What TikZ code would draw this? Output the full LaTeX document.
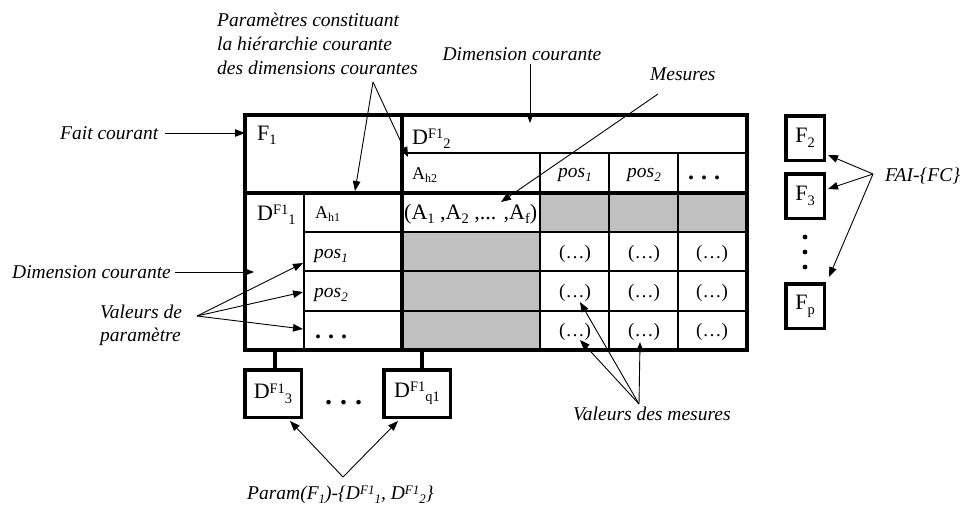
\documentclass[tikz,border=0pt]{standalone}
\usepackage{fontspec}
\setmainfont{Liberation Serif}
\usetikzlibrary{arrows.meta}
\definecolor{cellgray}{RGB}{192,192,192}
\newcommand{\Up}[2][14.5]{\raisebox{0.25em}{\fontsize{#1}{#1}\selectfont #2}}
\newcommand{\Dn}[2][14.5]{\raisebox{-0.22em}{\fontsize{#1}{#1}\selectfont #2}}
\newcommand{\cdotsx}{\textbf{.\hspace{7pt}.\hspace{7pt}.}}
\begin{document}
\begin{tikzpicture}[x=1pt,y=-1pt,
  thickline/.style={line width=3.5pt},
  thinline/.style={line width=1.6pt},
  conn/.style={line width=0.9pt,-{Triangle[length=10pt,width=7.5pt]}},
  lab/.style={font=\fontsize{19.5}{24}\selectfont\itshape, inner sep=0pt, anchor=base west},
  big/.style={font=\fontsize{22}{24}\selectfont, inner sep=0pt, anchor=base west},
  mid/.style={font=\fontsize{18}{20}\selectfont, inner sep=0pt, anchor=base west},
  posn/.style={font=\fontsize{19.5}{20}\selectfont\itshape, inner sep=0pt, anchor=base west},
  cellc/.style={font=\fontsize{19}{20}\selectfont, inner sep=0pt, anchor=base},
  dotsf/.style={font=\fontsize{24}{24}\selectfont, inner sep=0pt, anchor=base west},
  fbox/.style={draw, line width=3.5pt, minimum width=38.5pt, minimum height=44.5pt, inner sep=0pt, font=\fontsize{22}{24}\selectfont},
  dbox/.style={draw, line width=3.5pt, minimum height=47.5pt, inner sep=0pt, font=\fontsize{22}{24}\selectfont},
]
\useasboundingbox (0,0) rectangle (965,506);

% gray cells
\fill[cellgray] (540,193) rectangle (747,232);
\fill[cellgray] (402,232) rectangle (540,350);

% thin grid lines
\draw[line width=1.4pt] (402,153) -- (747,153);
\foreach \x in {540,609,678} \draw[thinline] (\x,153) -- (\x,350);
\foreach \y in {232,271,311} \draw[thinline] (304,\y) -- (747,\y);
\draw[thinline] (304,193) -- (304,350);

% thick lines
\draw[thickline] (245,115) rectangle (747,350);
\draw[thickline] (402,115) -- (402,350);
\draw[thickline] (245,193) -- (747,193);

% table texts
\node[big] (f1) at (257,140) {F\Dn{1}};
\node[big] (d2) at (412,144) {D\Up{F1}\Dn{2}};
\node[mid] (ah2) at (412,179) {A\Dn[12]{h2}};
\node[posn,anchor=base] (hp1) at (575,177) {pos\Dn[13]{1}};
\node[posn,anchor=base] (hp2) at (644,177) {pos\Dn[13]{2}};
\node[dotsf] (hp3) at (688,179) {\cdotsx};
\node[big] (d1) at (257,220) {D\Up{F1}\Dn{1}};
\node[mid] (ah1) at (315,218) {A\Dn[12]{h1}};
\node[big] (meas) at (404,219) {(A\Dn{1} ,A\Dn{2} ,... ,A\Dn{f})};
\node[posn] (rp1) at (314,258) {pos\Dn[13]{1}};
\node[posn] (rp2) at (314,297) {pos\Dn[13]{2}};
\node[dotsf] (rp3) at (315,338) {\cdotsx};
\foreach \r/\yy in {1/258,2/297,3/336}{
  \node[cellc] (v\r a) at (575,\yy) {(\dots)};
  \node[cellc] (v\r b) at (644,\yy) {(\dots)};
  \node[cellc] (v\r c) at (712,\yy) {(\dots)};
}

% dimension boxes below
\node[dbox, minimum width=56.5pt] (D3) at (273,393.5) {D\Up{F1}\Dn{3}};
\node[dbox, minimum width=66.5pt] (Dq) at (417,393.5) {D\Up{F1}\Dn{q1}};
\coordinate (s3) at (275,350);
\coordinate (sq) at (422,350);
\draw[thickline] (s3) -- (s3 |- D3.north);
\draw[thickline] (sq) -- (sq |- Dq.north);
\node[font=\fontsize{28}{28}\selectfont, inner sep=0pt, anchor=base west] (hdots) at (325,404) {\textbf{.\hspace{8pt}.\hspace{8pt}.}};

% fact boxes
\node[fbox] (F2) at (805,138) {F\Dn{2}};
\node[fbox] (F3) at (805,196) {F\Dn{3}};
\node[fbox] (Fp) at (805,306) {F\Dn{p}};
\foreach \yy in {237,252,267} \fill (805,\yy) circle (2.4pt);

% labels
\node[lab] (pc1) at (217,26) {Paramètres constituant};
\node[lab] (pc2) at (217,50) {la hiérarchie courante};
\node[lab] (pc3) at (217,74) {des dimensions courantes};
\node[lab,anchor=base] (dct) at (522,60) {Dimension courante};
\node[lab] (mes) at (650,80) {Mesures};
\node[lab] (fc) at (60,139) {Fait courant};
\node[lab] (dcl) at (12,278) {Dimension courante};
\node[lab] (vp1) at (100,318) {Valeurs de};
\node[lab] (vp2) at (100,341) {paramètre};
\node[lab] (fai) at (885,181) {FAI-\{FC\}};
\node[lab] (vm) at (573,420) {Valeurs des mesures};
\node[lab] (par) at (247,499) {Param(F\Dn[13]{1})-\{D\Up[13]{F1}\Dn[13]{1}, D\Up[13]{F1}\Dn[13]{2}\}};

% connector coordinates
\coordinate (hO) at (373,82);
\coordinate (hA) at (355,191);
\coordinate (hD) at (408,157);
\coordinate (dtO) at (530,64);
\coordinate (dtE) at (530,123);
\coordinate (mO) at (658,94);
\coordinate (mE) at (501,202);
\coordinate (fcO) at (165,133);
\coordinate (fcE) at (245,133);
\coordinate (dlO) at (175,272);
\coordinate (dlE) at (254,272);
\coordinate (vO) at (197,316);
\coordinate (vE1) at (303,263);
\coordinate (vE2) at (303,292);
\coordinate (vE3) at (303,329);
\coordinate (faO) at (873,174);
\coordinate (faE1) at (828,155);
\coordinate (faE2) at (828,189);
\coordinate (faE3) at (829,277);
\coordinate (vmO) at (639,404);
\coordinate (vmE1) at (580,302);
\coordinate (vmE2) at (580,340);
\coordinate (vmE3) at (640,342);
\coordinate (pO) at (343,477);
\coordinate (pE1) at (290,421);
\coordinate (pE2) at (398,421);

% connectors
\draw[conn] (hO) -- (hA);
\draw[conn] (hO) -- (hD);
\draw[conn] (dtO) -- (dtE);
\draw[conn] (mO) -- (mE);
\draw[conn] (fcO) -- (fcE);
\draw[conn] (dlO) -- (dlE);
\foreach \e in {vE1,vE2,vE3} \draw[conn] (vO) -- (\e);
\foreach \e in {faE1,faE2,faE3} \draw[conn] (faO) -- (\e);
\foreach \e in {vmE1,vmE2,vmE3} \draw[conn] (vmO) -- (\e);
\foreach \e in {pE1,pE2} \draw[conn] (pO) -- (\e);
\end{tikzpicture}
\end{document}
